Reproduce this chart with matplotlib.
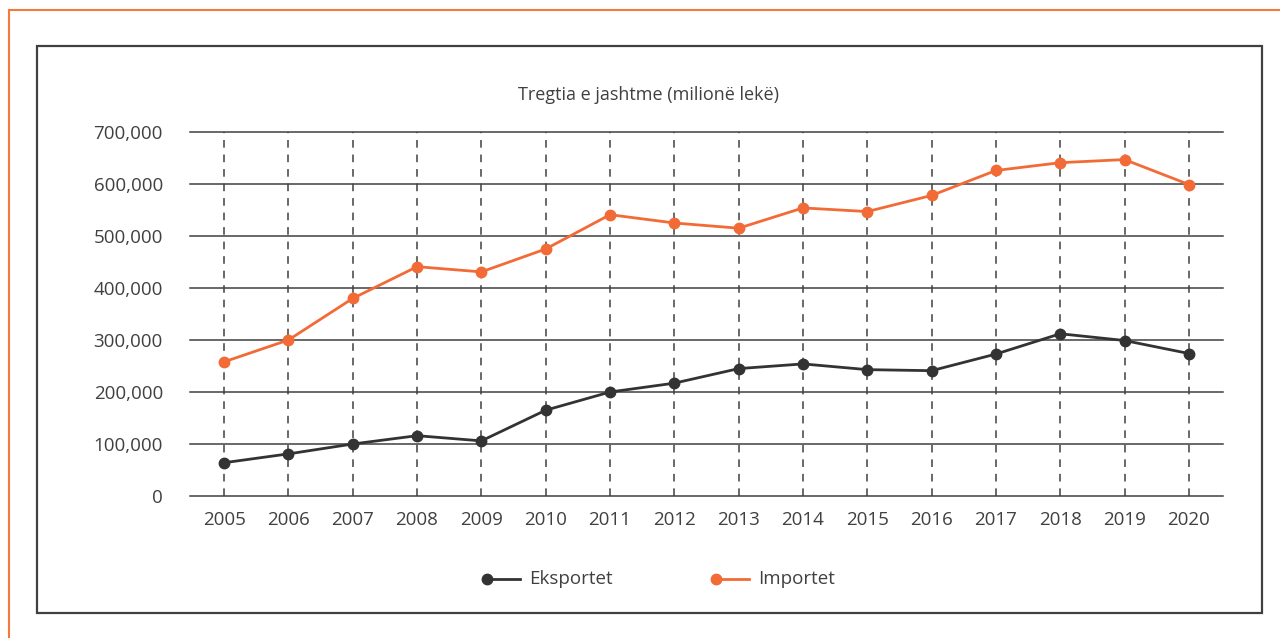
import matplotlib
matplotlib.use("Agg")
import matplotlib.pyplot as plt
from matplotlib.patches import Rectangle
from matplotlib.lines import Line2D

years = [str(y) for y in range(2005, 2021)]
eksportet = [64000, 81000, 100000, 116000, 106000, 165000, 200000, 217000,
             245000, 254000, 243000, 241000, 273000, 312000, 299000, 274000]
importet = [258000, 300000, 380000, 441000, 431000, 475000, 541000, 525000,
            515000, 554000, 547000, 578000, 626000, 641000, 647000, 599000]
yticks = [0, 100000, 200000, 300000, 400000, 500000, 600000, 700000]
title = "Tregtia e jashtme (milionë lekë)"
series_names = ['Eksportet', 'Importet']
series_colors = ['#333333', '#F26B36']

plt.rcParams['font.family'] = ['Open Sans', 'DejaVu Sans']
W, H = 1280, 638
fig = plt.figure(figsize=(W/100, H/100), dpi=100)

def fx(px): return px / W
def fy(py): return 1 - py / H

# orange outer frame (partially cropped)
fig.add_artist(Rectangle((fx(9), fy(700)), fx(1400), fy(10) - fy(700),
                         transform=fig.transFigure, fill=False,
                         edgecolor='#F4793B', linewidth=1.5))
# inner dark box
fig.add_artist(Rectangle((fx(37), fy(613)), fx(1262) - fx(37), fy(46) - fy(613),
                         transform=fig.transFigure, fill=False,
                         edgecolor='#404040', linewidth=1.6))

ax = fig.add_axes([fx(190), fy(496), fx(1223) - fx(190), fy(132) - fy(496)])
x = list(range(len(years)))
for vals, name, col in zip([eksportet, importet], series_names, series_colors):
    ax.plot(x, vals, color=col, lw=2, marker='o', ms=7.5, label=name, zorder=3)

ax.set_xlim(-0.53, len(years) - 0.47)
ax.set_ylim(0, 700000)
ax.set_yticks(yticks)
ax.set_yticklabels([f"{v:,}" for v in yticks])
ax.set_xticks(x)
ax.set_xticklabels(years)
for s in ax.spines.values():
    s.set_visible(False)
ax.tick_params(axis='both', length=0, labelsize=13.5, colors='#404040')
ax.tick_params(axis='y', pad=19.5)
ax.tick_params(axis='x', pad=11)
for v in yticks:
    ax.axhline(v, color='#404040', lw=1.1, zorder=1, clip_on=False)
for xi in x:
    ax.axvline(xi, color='#404040', lw=1.1, linestyle=(0, (5, 4.5)), zorder=1)

fig.text(fx(649), fy(95), title, ha='center', va='center', fontsize=13, color='#404040')

# legend (marker at left end of the sample line)
leg_x = [487, 716]
for lx, name, col in zip(leg_x, series_names, series_colors):
    fig.add_artist(Line2D([fx(lx), fx(lx + 33)], [fy(579), fy(579)], color=col, lw=2,
                          transform=fig.transFigure))
    fig.add_artist(Line2D([fx(lx)], [fy(579)], color=col, marker='o', ms=7.5, lw=0,
                          transform=fig.transFigure))
    fig.text(fx(lx + 42), fy(579), name, ha='left', va='center', fontsize=13.5,
             color='#404040')

fig.savefig('out.png', dpi=100)
